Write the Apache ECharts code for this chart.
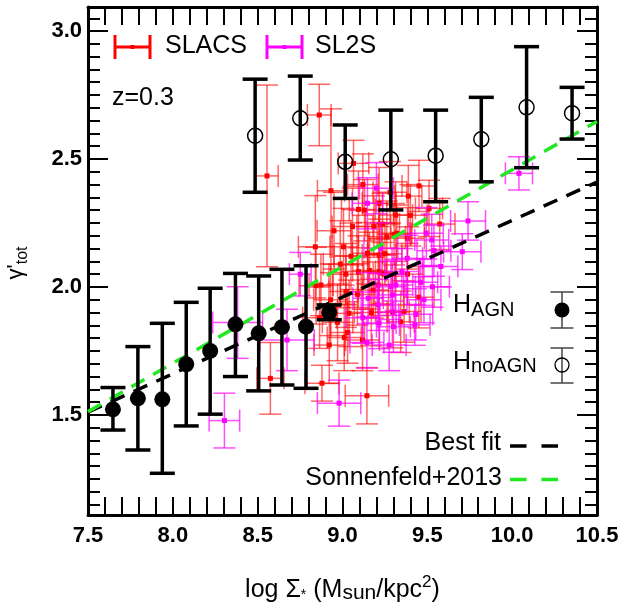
<!DOCTYPE html>
<html>
<head>
<meta charset="utf-8">
<script src="https://cdn.jsdelivr.net/npm/echarts@6/dist/echarts.min.js"></script>
<style>
  html, body { margin: 0; padding: 0; background: #fff; }
  #chart { width: 620px; height: 608px; }
</style>
</head>
<body>
<div id="chart"></div>
<script>
const FONT = '"Liberation Sans", Arial, Helvetica, sans-serif';

// Binned total slope, simulations with AGN feedback (filled circles)
const agnX    = [7.647, 7.794, 7.938, 8.079, 8.220, 8.369, 8.506, 8.643, 8.785, 8.922];
const agnY    = [1.522, 1.565, 1.561, 1.698, 1.750, 1.854, 1.819, 1.843, 1.845, 1.901];
const agnLow  = [1.441, 1.363, 1.272, 1.457, 1.503, 1.650, 1.594, 1.617, 1.604, 1.872];
const agnHigh = [1.607, 1.767, 1.858, 1.940, 1.995, 2.053, 2.043, 2.069, 2.083, 1.930];

// Binned total slope, simulations without AGN feedback (open circles)
const noAgnX    = [8.485, 8.751, 9.016, 9.285, 9.549, 9.818, 10.085, 10.353];
const noAgnY    = [2.591, 2.659, 2.489, 2.499, 2.513, 2.577, 2.702, 2.679];
const noAgnLow  = [2.370, 2.496, 2.346, 2.301, 2.333, 2.411, 2.466, 2.578];
const noAgnHigh = [2.812, 2.824, 2.633, 2.691, 2.691, 2.741, 2.939, 2.780];

// SLACS lenses: [log Sigma*, gamma', err log Sigma*, err gamma']
const slacs = [
  [8.555, 2.434, 0.066, 0.355], [8.863, 2.672, 0.070, 0.120], [8.932, 2.376, 0.080, 0.320],
  [9.065, 2.483, 0.090, 0.090], [9.451, 2.395, 0.100, 0.100], [9.388, 2.355, 0.080, 0.120],
  [9.094, 2.303, 0.100, 0.150], [9.130, 2.300, 0.090, 0.120], [9.216, 2.327, 0.100, 0.140],
  [9.059, 2.236, 0.120, 0.150], [9.185, 2.236, 0.100, 0.120], [9.313, 2.281, 0.100, 0.130],
  [9.320, 2.210, 0.090, 0.110], [9.510, 2.307, 0.080, 0.110], [8.840, 2.157, 0.100, 0.200],
  [9.006, 2.157, 0.080, 0.150], [8.987, 2.089, 0.100, 0.170], [9.147, 2.132, 0.090, 0.120],
  [9.573, 2.246, 0.090, 0.100], [9.160, 2.064, 0.100, 0.150], [9.235, 2.054, 0.080, 0.120],
  [8.844, 2.005, 0.100, 0.150], [8.873, 2.008, 0.070, 0.120], [9.094, 2.060, 0.100, 0.140],
  [9.020, 1.982, 0.100, 0.140], [9.088, 1.971, 0.100, 0.120], [9.039, 1.897, 0.080, 0.130],
  [8.971, 1.862, 0.090, 0.150], [9.030, 1.822, 0.100, 0.120], [9.304, 2.206, 0.100, 0.120],
  [9.261, 2.196, 0.110, 0.140], [9.383, 2.190, 0.100, 0.120], [9.383, 2.050, 0.090, 0.120],
  [9.363, 1.904, 0.100, 0.120], [9.294, 1.902, 0.100, 0.140], [9.343, 1.864, 0.080, 0.120],
  [8.575, 1.643, 0.080, 0.140], [8.879, 1.624, 0.100, 0.070], [9.144, 1.575, 0.128, 0.110],
  [8.922, 1.773, 0.090, 0.150], [9.010, 1.803, 0.100, 0.130], [9.118, 1.793, 0.100, 0.120],
  [8.865, 1.880, 0.100, 0.120], [9.216, 2.125, 0.100, 0.140], [9.236, 2.246, 0.100, 0.120],
  [9.216, 2.060, 0.090, 0.130], [9.210, 2.008, 0.100, 0.120], [9.181, 1.988, 0.090, 0.110],
  [8.950, 2.220, 0.100, 0.150], [9.120, 2.400, 0.090, 0.120], [9.020, 2.050, 0.100, 0.120],
  [9.250, 2.130, 0.100, 0.120], [9.400, 2.280, 0.100, 0.120], [8.930, 1.950, 0.100, 0.140],
  [9.170, 1.900, 0.100, 0.130], [9.280, 2.370, 0.100, 0.120], [9.050, 2.120, 0.100, 0.130],
  [9.450, 1.960, 0.090, 0.120]
];

// SL2S lenses: [log Sigma*, gamma', err log Sigma*, err gamma']
const sl2s = [
  [9.200, 2.386, 0.100, 0.100], [10.040, 2.444, 0.080, 0.065], [9.494, 2.210, 0.100, 0.100],
  [9.526, 2.184, 0.100, 0.100], [9.539, 2.142, 0.100, 0.100], [9.740, 2.258, 0.103, 0.075],
  [9.706, 2.138, 0.110, 0.070], [9.382, 2.112, 0.090, 0.090], [9.461, 2.018, 0.100, 0.090],
  [9.530, 2.001, 0.100, 0.080], [9.294, 1.969, 0.090, 0.080], [9.314, 2.008, 0.100, 0.100],
  [9.432, 1.893, 0.100, 0.100], [9.426, 1.852, 0.090, 0.080], [8.751, 2.050, 0.064, 0.085],
  [9.151, 1.956, 0.090, 0.100], [9.210, 1.930, 0.100, 0.100], [9.216, 1.859, 0.100, 0.100],
  [8.673, 1.793, 0.160, 0.120], [8.980, 1.546, 0.128, 0.090], [8.304, 1.478, 0.090, 0.107],
  [9.275, 1.773, 0.100, 0.100], [9.144, 1.783, 0.100, 0.100], [9.147, 2.327, 0.090, 0.100],
  [9.226, 2.151, 0.100, 0.100], [9.300, 1.845, 0.100, 0.100], [9.285, 2.001, 0.090, 0.100],
  [8.382, 1.861, 0.147, 0.140], [9.350, 2.060, 0.100, 0.090], [9.580, 2.080, 0.100, 0.080],
  [9.480, 1.950, 0.100, 0.090], [9.120, 1.880, 0.100, 0.100]
];

// Linear relations (end points across the plotted range)
const bestFitLine    = [[7.5, 1.511], [10.5, 2.410]];
const sonnenfeldLine = [[7.5, 1.513], [10.5, 2.647]];

// Axis ranges and tick labels
const xMin = 7.5, xMax = 10.5;
const yMin = 1.109, yMax = 3.094;
const xTickLabels = [7.5, 8.0, 8.5, 9.0, 9.5, 10.0, 10.5];
const yTickLabels = [1.5, 2.0, 2.5, 3.0];

function steps(from, to, step) {
  const out = [];
  for (let v = from; v <= to + 1e-9; v += step) out.push(Math.round(v * 1000) / 1000);
  return out;
}
const xTicks = steps(7.5, 10.5, 0.1);
const yMinorTicks = steps(1.15, 3.05, 0.05);

const mctx = document.createElement('canvas').getContext('2d');
// Places text pieces side by side on a common baseline (sub/superscripts via dy)
function textRun(pieces, x, baseY, align) {
  const widths = pieces.map(p => {
    mctx.font = `${p.w || 'normal'} ${p.s}px ${FONT}`;
    return mctx.measureText(p.t).width;
  });
  const total = widths.reduce((a, b) => a + b, 0);
  let cx = align === 'right' ? x - total : align === 'center' ? x - total / 2 : x;
  return pieces.map((p, i) => {
    const el = {
      type: 'text', x: cx, y: baseY + (p.dy || 0) - 0.35 * p.s,
      style: {
        text: p.t, fontSize: p.s, fontFamily: FONT, fontWeight: p.w || 'normal', fill: '#000',
        textAlign: 'left', textVerticalAlign: 'middle', align: 'left', verticalAlign: 'middle'
      }
    };
    cx += widths[i];
    return el;
  });
}

function lensBars(markColor, barColor) {
  return function (params, api) {
    const x = api.value(0), y = api.value(1), ex = api.value(2), ey = api.value(3);
    const c = api.coord([x, y]);
    const xl = api.coord([x - ex, y])[0], xr = api.coord([x + ex, y])[0];
    const yt = api.coord([x, y + ey])[1], yb = api.coord([x, y - ey])[1];
    const cap = 11;
    const st = { stroke: barColor, lineWidth: 1.5 };
    const L = (x1, y1, x2, y2) => ({ type: 'line', shape: { x1, y1, x2, y2 }, style: st });
    return {
      type: 'group',
      children: [
        L(xl, c[1], xr, c[1]), L(xl, c[1] - cap, xl, c[1] + cap), L(xr, c[1] - cap, xr, c[1] + cap),
        L(c[0], yt, c[0], yb), L(c[0] - cap, yt, c[0] + cap, yt), L(c[0] - cap, yb, c[0] + cap, yb),
        { type: 'rect', shape: { x: c[0] - 2.5, y: c[1] - 2.5, width: 5, height: 5 }, style: { fill: markColor } }
      ]
    };
  };
}

function binBars(filled) {
  return function (params, api) {
    const x = api.value(0), y = api.value(1), lo = api.value(2), hi = api.value(3);
    const c = api.coord([x, y]);
    const t = api.coord([x, hi])[1], b = api.coord([x, lo])[1];
    const cap = 12.5;
    const st = { stroke: '#000', lineWidth: 3.5 };
    return {
      type: 'group',
      children: [
        { type: 'line', shape: { x1: c[0], y1: t, x2: c[0], y2: b }, style: st },
        { type: 'line', shape: { x1: c[0] - cap, y1: t, x2: c[0] + cap, y2: t }, style: st },
        { type: 'line', shape: { x1: c[0] - cap, y1: b, x2: c[0] + cap, y2: b }, style: st },
        filled
          ? { type: 'circle', shape: { cx: c[0], cy: c[1], r: 8 }, style: { fill: '#000' } }
          : { type: 'circle', shape: { cx: c[0], cy: c[1], r: 7.5 }, style: { fill: 'none', stroke: '#000', lineWidth: 1.5 } }
      ]
    };
  };
}

const tickLabelStyle = { fontSize: 22, fontWeight: 'bold', fontFamily: FONT, color: '#000' };

function yAxisDef(position, ticks, len, withLine, withLabels) {
  return {
    type: 'value', min: yMin, max: yMax, position,
    axisLine: { show: withLine, onZero: false, lineStyle: { color: '#000', width: 3 } },
    axisTick: { show: true, inside: true, length: len, customValues: ticks, lineStyle: { color: '#000', width: 2 } },
    axisLabel: withLabels
      ? Object.assign({ show: true, customValues: yTickLabels, margin: 6, formatter: v => v.toFixed(1) }, tickLabelStyle)
      : { show: false },
    splitLine: { show: false }
  };
}
function xAxisDef(position, withLabels) {
  return {
    type: 'value', min: xMin, max: xMax, position,
    axisLine: { show: true, onZero: false, lineStyle: { color: '#000', width: 3 } },
    axisTick: { show: true, inside: true, length: 18, customValues: xTicks, lineStyle: { color: '#000', width: 2 } },
    axisLabel: withLabels
      ? Object.assign({ show: true, customValues: xTickLabels, margin: 10, formatter: v => v.toFixed(1) }, tickLabelStyle)
      : { show: false },
    splitLine: { show: false }
  };
}

const legendGraphics = [];
// error-bar keys for the lens samples
function keyBar(x1, x2, y, color) {
  const st = { stroke: color, lineWidth: 3 };
  legendGraphics.push(
    { type: 'line', shape: { x1, y1: y, x2, y2: y }, style: st },
    { type: 'line', shape: { x1, y1: y - 12, x2: x1, y2: y + 12 }, style: st },
    { type: 'line', shape: { x1: x2, y1: y - 12, x2, y2: y + 12 }, style: st },
    { type: 'rect', shape: { x: (x1 + x2) / 2 - 2, y: y - 2, width: 4, height: 4 }, style: { fill: color } }
  );
}
keyBar(115, 150, 47, '#ff0000');
keyBar(267, 302, 47, '#ff00ff');
legendGraphics.push(...textRun([{ t: 'SLACS', s: 25 }], 165, 55, 'left'));
legendGraphics.push(...textRun([{ t: 'SL2S', s: 25 }], 315, 55, 'left'));
legendGraphics.push(...textRun([{ t: 'z=0.3', s: 25 }], 112, 107, 'left'));

// keys for the simulation bins
function keyBin(cx, cy, top, bottom, filled) {
  const st = { stroke: '#444', lineWidth: 1.5 };
  legendGraphics.push(
    { type: 'line', shape: { x1: cx, y1: top, x2: cx, y2: bottom }, style: st },
    { type: 'line', shape: { x1: cx - 11.5, y1: top, x2: cx + 11.5, y2: top }, style: st },
    { type: 'line', shape: { x1: cx - 11.5, y1: bottom, x2: cx + 11.5, y2: bottom }, style: st },
    filled
      ? { type: 'circle', shape: { cx, cy, r: 7.5 }, style: { fill: '#000' } }
      : { type: 'circle', shape: { cx, cy, r: 7 }, style: { fill: 'none', stroke: '#000', lineWidth: 1.3 } }
  );
}
keyBin(562, 310, 292, 328, true);
keyBin(562, 365, 348, 383, false);
legendGraphics.push(...textRun([{ t: 'H', s: 25 }, { t: 'AGN', s: 20, dy: 3 }], 453, 314, 'left'));
legendGraphics.push(...textRun([{ t: 'H', s: 25 }, { t: 'noAGN', s: 20, dy: 3 }], 453, 370.5, 'left'));
legendGraphics.push(...textRun([{ t: 'Best fit', s: 25 }], 501, 452, 'right'));
legendGraphics.push(...textRun([{ t: 'Sonnenfeld+2013', s: 25 }], 502, 487, 'right'));
legendGraphics.push(
  { type: 'line', shape: { x1: 510, y1: 446, x2: 558.5, y2: 446 }, style: { stroke: '#000', lineWidth: 3.5, lineDash: [16.5, 15] } },
  { type: 'line', shape: { x1: 510, y1: 479.5, x2: 558.5, y2: 479.5 }, style: { stroke: '#22e822', lineWidth: 3.5, lineDash: [16.5, 15] } }
);

// axis titles
legendGraphics.push(...textRun([
  { t: 'log Σ', s: 25 }, { t: '*', s: 14, dy: 2 }, { t: ' (M', s: 25 }, { t: 'sun', s: 21, dy: 2 },
  { t: '/kpc', s: 25 }, { t: '2', s: 17, dy: -10 }, { t: ')', s: 25 }
], 342.5, 598.5, 'center'));
legendGraphics.push({
  type: 'group', x: 24, y: 263, rotation: Math.PI / 2,
  children: textRun([{ t: 'γ', s: 22 }, { t: '\'', s: 22 }, { t: 'tot', s: 16, dy: 4 }], 0, 0, 'center')
});

const chart = echarts.init(document.getElementById('chart'), null, { renderer: 'canvas' });
chart.setOption({
  animation: false,
  backgroundColor: '#fff',
  grid: { left: 88, right: 23, top: 7, bottom: 93, outerBoundsMode: 'none', containLabel: false },
  xAxis: [xAxisDef('bottom', true), xAxisDef('top', false)],
  yAxis: [
    yAxisDef('left', yTickLabels, 20, true, true),
    yAxisDef('left', yMinorTicks, 12, false, false),
    yAxisDef('right', yTickLabels, 20, true, false),
    yAxisDef('right', yMinorTicks, 12, false, false)
  ],
  series: [
    { type: 'custom', name: 'SLACS', data: slacs, encode: { x: 0, y: 1 }, renderItem: lensBars('#ff0000', 'rgba(255,0,0,0.6)'), z: 2 },
    { type: 'custom', name: 'SL2S', data: sl2s, encode: { x: 0, y: 1 }, renderItem: lensBars('#ff00ff', 'rgba(255,0,255,0.7)'), z: 2 },
    { type: 'line', name: 'Best fit', data: bestFitLine, showSymbol: false, symbol: 'none',
      lineStyle: { color: '#000', width: 3.5, type: [15, 10] }, z: 3 },
    { type: 'line', name: 'Sonnenfeld+2013', data: sonnenfeldLine, showSymbol: false, symbol: 'none',
      lineStyle: { color: '#22e822', width: 3.5, type: [15, 10] }, z: 3 },
    { type: 'custom', name: 'H_AGN', data: agnX.map((x, i) => [x, agnY[i], agnLow[i], agnHigh[i]]),
      encode: { x: 0, y: 1 }, renderItem: binBars(true), z: 4 },
    { type: 'custom', name: 'H_noAGN', data: noAgnX.map((x, i) => [x, noAgnY[i], noAgnLow[i], noAgnHigh[i]]),
      encode: { x: 0, y: 1 }, renderItem: binBars(false), z: 4 }
  ],
  graphic: legendGraphics
});
</script>
</body>
</html>
